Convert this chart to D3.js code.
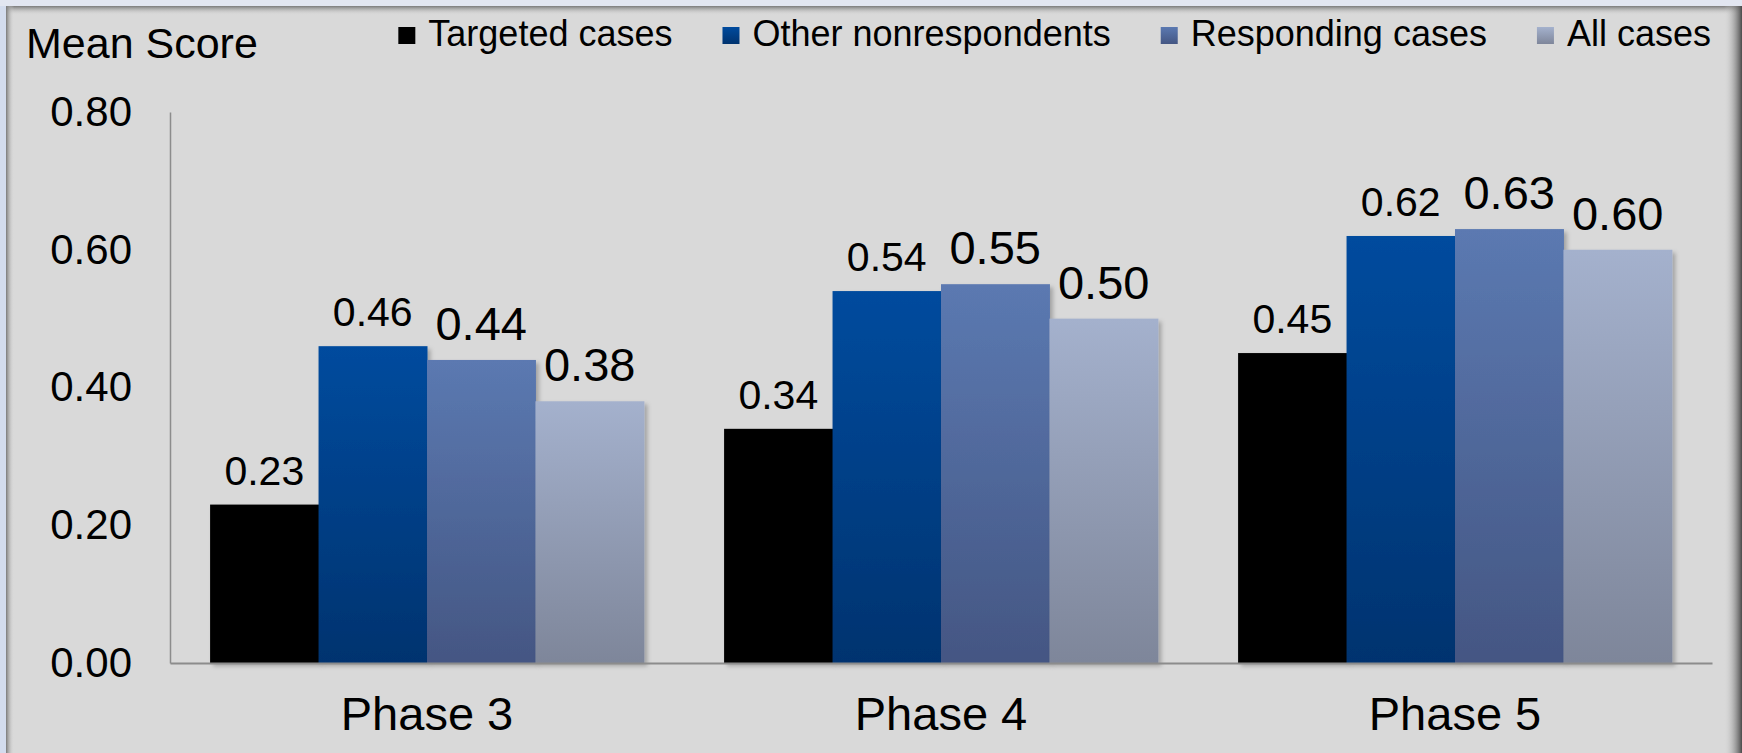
<!DOCTYPE html>
<html>
<head>
<meta charset="utf-8">
<script src="https://cdn.jsdelivr.net/npm/d3@7"></script>
<style>
  html, body { margin: 0; padding: 0; background: #d3dcee; }
  svg { display: block; font-family: "Liberation Sans", Arial, sans-serif; }
</style>
</head>
<body>
<div id="chart"></div>
<script>
// data
var phases = ["Phase 3", "Phase 4", "Phase 5"];
var seriesNames = ["Targeted cases", "Other nonrespondents", "Responding cases", "All cases"];
var targeted = [0.23, 0.34, 0.45];
var otherNon = [0.46, 0.54, 0.62];
var responding = [0.44, 0.55, 0.63];
var allCases = [0.38, 0.50, 0.60];
var yTicks = [0, 0.2, 0.4, 0.6, 0.8];

var W = 1742, H = 753;
var margin = { top: 112, right: 30, bottom: 90, left: 170 },
    width = W - margin.left - margin.right,
    height = H - margin.top - margin.bottom;

// top/bottom colours of each series gradient
var colTop = ["#000000", "#004b9e", "#5b79b1", "#a4b1cd"];
var colBot = ["#000000", "#00336f", "#445683", "#7e869a"];
var labelSize = [41, 41, 47, 47];

var svg = d3.select("#chart").append("svg")
    .attr("width", W).attr("height", H);

var defs = svg.append("defs");
seriesNames.forEach(function (s, i) {
    var g = defs.append("linearGradient").attr("id", "grad" + i)
        .attr("x1", 0).attr("y1", 0).attr("x2", 0).attr("y2", 1);
    g.append("stop").attr("offset", "0%").attr("stop-color", colTop[i]);
    g.append("stop").attr("offset", "100%").attr("stop-color", colBot[i]);
});
var sh = defs.append("filter").attr("id", "shadow")
    .attr("x", "-10%").attr("y", "-10%").attr("width", "130%").attr("height", "130%");
sh.append("feDropShadow").attr("dx", 3).attr("dy", 3).attr("stdDeviation", 2)
    .attr("flood-color", "#000").attr("flood-opacity", 0.25);

var topEdge = defs.append("linearGradient").attr("id", "topEdge")
    .attr("x1", 0).attr("y1", 0).attr("x2", 0).attr("y2", 1);
topEdge.append("stop").attr("offset", "0%").attr("stop-color", "#7a7a7a");
topEdge.append("stop").attr("offset", "100%").attr("stop-color", "#d9d9d9").attr("stop-opacity", 0);
var leftEdge = defs.append("linearGradient").attr("id", "leftEdge")
    .attr("x1", 0).attr("y1", 0).attr("x2", 1).attr("y2", 0);
leftEdge.append("stop").attr("offset", "0%").attr("stop-color", "#7a7a7a");
leftEdge.append("stop").attr("offset", "100%").attr("stop-color", "#d9d9d9").attr("stop-opacity", 0);
var rightEdge = defs.append("linearGradient").attr("id", "rightEdge")
    .attr("x1", 0).attr("y1", 0).attr("x2", 1).attr("y2", 0);
rightEdge.append("stop").attr("offset", "0%").attr("stop-color", "#d9d9d9").attr("stop-opacity", 0);
rightEdge.append("stop").attr("offset", "100%").attr("stop-color", "#4a4a4a");

// frame
svg.append("rect").attr("x", 0).attr("y", 0).attr("width", W).attr("height", 6).attr("fill", "#e2e6f1");
svg.append("rect").attr("x", 6).attr("y", 6).attr("width", W - 6).attr("height", H - 6).attr("fill", "#d9d9d9");
svg.append("rect").attr("x", 6).attr("y", 6).attr("width", W - 6).attr("height", 9).attr("fill", "url(#topEdge)");
svg.append("rect").attr("x", 6).attr("y", 6).attr("width", 8).attr("height", H - 6).attr("fill", "url(#leftEdge)");
svg.append("rect").attr("x", W - 18).attr("y", 6).attr("width", 18).attr("height", H - 6).attr("fill", "url(#rightEdge)");

var g = svg.append("g")
    .attr("transform", "translate(" + margin.left + "," + margin.top + ")");

var x0 = d3.scaleBand().domain(phases).range([0, width])
    .paddingInner(0.156).paddingOuter(0.078);
var x1 = d3.scaleBand().domain(seriesNames).range([0, x0.bandwidth()]);
var y = d3.scaleLinear().domain([0, 0.8]).range([height, 0]);

var allSeries = [targeted, otherNon, responding, allCases];
var rows = [];
phases.forEach(function (p, pi) {
    seriesNames.forEach(function (s, si) {
        rows.push({ phase: p, series: s, si: si, value: allSeries[si][pi] });
    });
});

// y axis
var yAxis = g.append("g")
    .call(d3.axisLeft(y).tickValues(yTicks).tickFormat(d3.format(".2f")).tickSize(0).tickPadding(38));
yAxis.select(".domain").attr("stroke", "#8c8c8c").attr("stroke-width", 1.5);
yAxis.selectAll("text").attr("font-size", 42).attr("fill", "#000")
    .style("font-family", "'Liberation Sans', Arial, sans-serif");

// bars
g.append("g").selectAll("rect")
    .data(rows)
    .enter()
    .append("rect")
    .attr("x", function (d) { return x0(d.phase) + x1(d.series) })
    .attr("y", function (d) { return y(d.value) })
    .attr("width", x1.bandwidth() + 0.5)
    .attr("height", function (d) { return height - y(d.value) })
    .attr("fill", function (d) { return "url(#grad" + d.si + ")" })
    .attr("filter", "url(#shadow)");

// x axis
var xAxis = g.append("g")
    .attr("transform", "translate(0," + height + ")")
    .call(d3.axisBottom(x0).tickSize(0).tickPadding(34).tickSizeOuter(0));
xAxis.select(".domain").attr("stroke", "#8c8c8c").attr("stroke-width", 2);
xAxis.selectAll("text").attr("font-size", 47).attr("fill", "#000")
    .style("font-family", "'Liberation Sans', Arial, sans-serif");

// value labels
g.append("g").selectAll("text")
    .data(rows)
    .enter()
    .append("text")
    .attr("x", function (d) { return x0(d.phase) + x1(d.series) + x1.bandwidth() / 2 })
    .attr("y", function (d) { return y(d.value) - 20 })
    .attr("text-anchor", "middle")
    .attr("font-size", function (d) { return labelSize[d.si] })
    .text(function (d) { return d3.format(".2f")(d.value) });

// axis title
svg.append("text").attr("x", 26).attr("y", 58).attr("font-size", 43).text("Mean Score");

// legend, laid out from the right
var leg = svg.append("g");
var xr = 1711;
for (var i = seriesNames.length - 1; i >= 0; i--) {
    var t = leg.append("text").attr("y", 46).attr("font-size", 36).text(seriesNames[i]);
    var w = t.node().getComputedTextLength();
    t.attr("x", xr - w);
    leg.append("rect").attr("x", xr - w - 30).attr("y", 27).attr("width", 17).attr("height", 17)
        .attr("fill", "url(#grad" + i + ")");
    xr = xr - w - 30 - 50;
}
</script>
</body>
</html>
